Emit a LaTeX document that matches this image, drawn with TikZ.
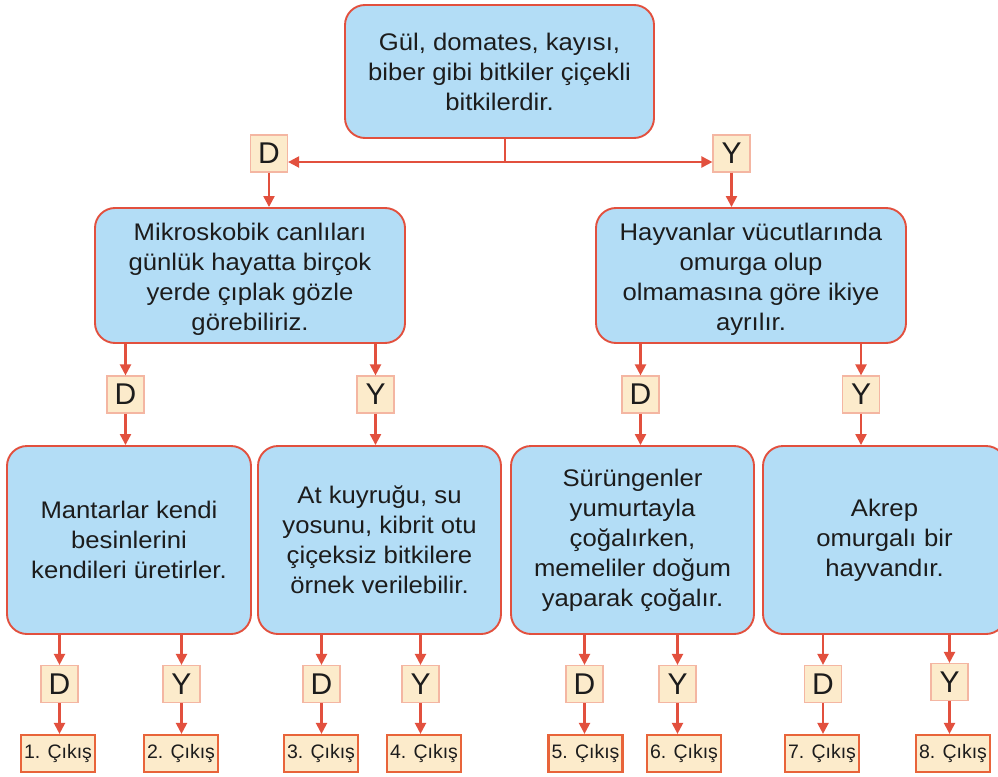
\documentclass[tikz,border=0pt]{standalone}
\usepackage{fontspec}
\setmainfont[FakeStretch=1.07]{Liberation Sans}
\newfontfamily\plainsans{Liberation Sans}
\usetikzlibrary{arrows.meta}
\definecolor{boxblue}{HTML}{B3DDF6}
\definecolor{boxred}{HTML}{E2503E}
\definecolor{tagfill}{HTML}{FCEBCB}
\definecolor{tagline}{HTML}{F4B6A2}
\definecolor{outline}{HTML}{E8643A}
\definecolor{txt}{HTML}{1C1C1C}
\tikzset{
  qbox/.style={draw=boxred, fill=boxblue, line width=1.9pt, rounded corners=20pt,
    align=center, inner sep=0pt, text=txt,
    font=\fontsize{24}{30}\selectfont},
  tag/.style={draw=tagline, fill=tagfill, line width=1.2pt, minimum width=37pt,
    minimum height=37pt, inner sep=0pt, text=txt,
    font=\plainsans\fontsize{30}{30}\selectfont},
  exitbox/.style={draw=outline, fill=tagfill, line width=2.2pt, minimum width=74pt,
    minimum height=37pt, inner sep=0pt, text=txt,
    font=\plainsans\fontsize{19.5}{20}\selectfont},
  arr/.style={draw=boxred, line width=2.2pt, -{Triangle[length=11pt,width=11pt]}},
  ln/.style={draw=boxred, line width=2.2pt}
}
\begin{document}
\begin{tikzpicture}[x=1pt,y=-1pt]
\useasboundingbox (0,0) rectangle (998,776);
\begin{scope}
\clip (0,0) rectangle (998,776);
% level 1
\node[qbox, minimum width=309pt, minimum height=133pt] (top) at (499.5,71.5)
  {Gül, domates, kayısı,\\biber gibi bitkiler çiçekli\\bitkilerdir.};
\node[tag] (d0) at (269,153.5) {D};
\node[tag] (y0) at (731.5,153.5) {Y};
\coordinate (split) at (505,162);
\draw[ln] (top.south -| split) -- (split);
\draw[arr] (split) -- (d0.east |- split);
\draw[arr] (split) -- (y0.west |- split);
% level 2
\node[qbox, minimum width=310pt, minimum height=135pt] (l2a) at (250,275.5)
  {\rule{0pt}{25pt}Mikroskobik canlıları\\günlük hayatta birçok\\yerde çıplak gözle\\görebiliriz.};
\node[qbox, minimum width=310pt, minimum height=135pt] (l2b) at (751,275.5)
  {\rule{0pt}{25pt}Hayvanlar vücutlarında\\omurga olup\\olmamasına göre ikiye\\ayrılır.};
\draw[arr] (d0.south) -- (d0.south |- l2a.north);
\draw[arr] (y0.south) -- (y0.south |- l2b.north);
% level 2 tags
\node[tag] (d1) at (125.5,394.5) {D};
\node[tag] (y1) at (375.5,394.5) {Y};
\node[tag] (d2) at (640.5,394.5) {D};
\node[tag] (y2) at (861,394.5) {Y};
\foreach \t/\p in {d1/l2a,y1/l2a,d2/l2b,y2/l2b}
  \draw[arr] (\t.north |- \p.south) -- (\t.north);
% level 3
\node[qbox, minimum width=244pt, minimum height=188pt] (l3a) at (129,540)
  {Mantarlar kendi\\besinlerini\\kendileri üretirler.};
\node[qbox, minimum width=243pt, minimum height=188pt] (l3b) at (379.5,540)
  {At kuyruğu, su\\yosunu, kibrit otu\\çiçeksiz bitkilere\\örnek verilebilir.};
\node[qbox, minimum width=243pt, minimum height=188pt] (l3c) at (632.5,540)
  {Sürüngenler\\yumurtayla\\çoğalırken,\\memeliler doğum\\yaparak çoğalır.};
\node[qbox, minimum width=243pt, minimum height=188pt, text width=243pt] (l3d) at (884.5,540)
  {Akrep\\omurgalı bir\\hayvandır.};
\draw[arr] (d1.south) -- (d1.south |- l3a.north);
\draw[arr] (y1.south) -- (y1.south |- l3b.north);
\draw[arr] (d2.south) -- (d2.south |- l3c.north);
\draw[arr] (y2.south) -- (y2.south |- l3d.north);
% level 4 tags
\node[tag] (d3) at (59.5,684) {D};
\node[tag] (y3) at (181.5,684) {Y};
\node[tag] (d4) at (321.5,684) {D};
\node[tag] (y4) at (420.5,684) {Y};
\node[tag] (d5) at (584.5,684) {D};
\node[tag] (y5) at (677.5,684) {Y};
\node[tag] (d6) at (823,684) {D};
\node[tag] (y6) at (949.5,682) {Y};
\foreach \t/\p in {d3/l3a,y3/l3a,d4/l3b,y4/l3b,d5/l3c,y5/l3c,d6/l3d,y6/l3d}
  \draw[arr] (\t.north |- \p.south) -- (\t.north);
% exits
\node[exitbox] (e1) at (58,753.5) {1. Çıkış};
\node[exitbox] (e2) at (181,753.5) {2. Çıkış};
\node[exitbox] (e3) at (321,753.5) {3. Çıkış};
\node[exitbox] (e4) at (424,753.5) {4. Çıkış};
\node[exitbox] (e5) at (585.5,753.5) {5. Çıkış};
\node[exitbox] (e6) at (684,753.5) {6. Çıkış};
\node[exitbox] (e7) at (822,753.5) {7. Çıkış};
\node[exitbox] (e8) at (953,753.5) {8. Çıkış};
\foreach \t/\e in {d3/e1,y3/e2,d4/e3,y4/e4,d5/e5,y5/e6,d6/e7,y6/e8}
  \draw[arr] (\t.south) -- (\t.south |- \e.north);
\end{scope}
\end{tikzpicture}
\end{document}
